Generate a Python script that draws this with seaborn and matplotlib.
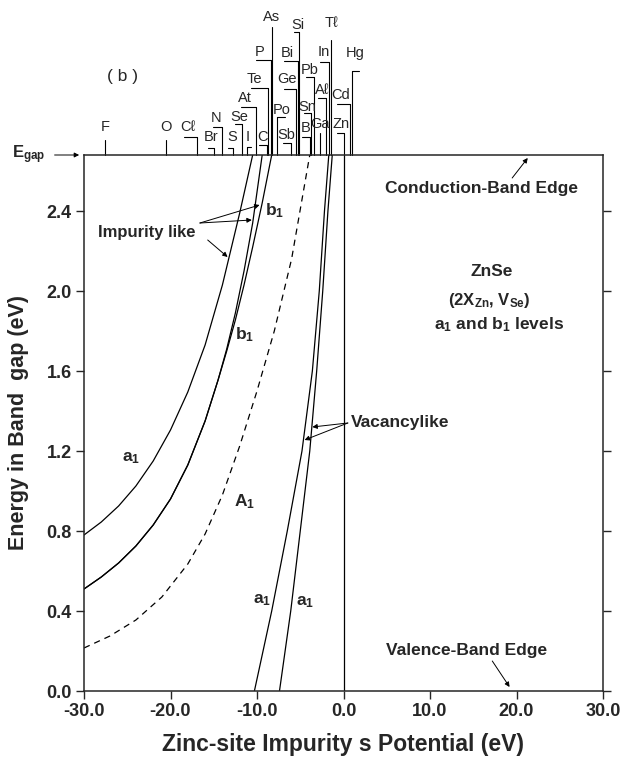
import numpy as np
import pandas as pd
import matplotlib
matplotlib.use('Agg')
import matplotlib.pyplot as plt
import matplotlib.transforms as mtransforms
import seaborn as sns

# curves: impurity potential (eV) vs level energy (eV)
imp_a1_x = [-30, -28, -26, -24, -22, -20, -18, -16, -14, -12, -10.5]
imp_a1_y = [0.78, 0.845, 0.925, 1.025, 1.15, 1.305, 1.495, 1.73, 2.03, 2.39, 2.68]

b1_low_x = [-30, -28, -26, -24, -22, -20, -18, -16, -14.5]
b1_low_y = [0.51, 0.57, 0.64, 0.725, 0.83, 0.96, 1.13, 1.35, 1.555]
b1a_top_x = [-13.5, -12.5, -11.5, -10.5, -9.4]
b1a_top_y = [1.71, 1.89, 2.10, 2.34, 2.68]
b1b_top_x = [-13.5, -12.5, -11.5, -10.5, -9.4, -8.3]
b1b_top_y = [1.70, 1.855, 2.03, 2.22, 2.44, 2.68]

A1_x = [-30, -27, -24, -21, -18, -16, -14, -12, -10, -8, -6, -3.9]
A1_y = [0.215, 0.275, 0.355, 0.47, 0.635, 0.785, 0.98, 1.225, 1.50, 1.80, 2.16, 2.68]

vac1_x = [-10.3, -8.3, -6.5, -4.8, -3.6, -2.8, -2.2, -1.7]
vac1_y = [0.0, 0.4, 0.8, 1.2, 1.6, 2.0, 2.4, 2.68]
vac2_x = [-7.4, -6.1, -5.0, -3.9, -3.1, -2.4, -1.8, -1.3]
vac2_y = [0.0, 0.4, 0.8, 1.2, 1.6, 2.0, 2.4, 2.68]

e_gap = 2.68

# impurity s-orbital potentials marked above the frame
elements = ['F', 'O', 'Cℓ', 'Br', 'N', 'S', 'Se', 'I', 'At', 'Te', 'C', 'P', 'As',
            'Po', 'Sb', 'Ge', 'Bi', 'Si', 'B', 'Sn', 'Pb', 'Ga', 'Aℓ', 'In', 'Tℓ',
            'Zn', 'Cd', 'Hg']
potentials = [-27.6, -20.5, -16.9, -15.0, -14.0, -12.8, -11.7, -11.2, -10.1, -8.7,
              -8.8, -8.4, -8.3, -7.7, -6.1, -5.5, -5.3, -5.1, -3.9, -3.8, -3.4,
              -2.7, -2.0, -1.7, -1.4, 0.0, 0.8, 1.0]
# label layout (label x in eV, label / bar height in pixels from top of figure)
label_x = [-27.6, -20.5, -18.0, -15.3, -14.7, -12.9, -12.1, -11.1, -11.4, -10.3,
           -9.4, -9.7, -8.3, -7.2, -6.6, -6.5, -6.5, -5.3, -4.4, -4.2, -3.9,
           -2.7, -2.5, -2.3, -1.4, -0.3, -0.3, 1.4]
label_py = [127, 127, 127, 137, 118, 137, 117, 137, 98, 79, 137, 52, 17, 110, 135,
            79, 53, 25, 128, 107, 70, 124, 90, 52, 23, 124, 95, 53]
bar_py = [140, 140, 137, 148, 127, 148, 124, 147, 107, 88, 145, 60, 27, 117, 143,
          89, 61, 32, 137, 113, 77, 133, 98, 62, 40, 133, 104, 71]

sns.set_style('ticks')
plt.rcParams['font.family'] = ['Liberation Sans', 'DejaVu Sans']
plt.rcParams['mathtext.fontset'] = 'custom'
plt.rcParams['mathtext.bf'] = 'Liberation Sans:bold'
plt.rcParams['mathtext.rm'] = 'Liberation Sans'
plt.rcParams['mathtext.it'] = 'Liberation Sans:italic'

W, H = 628, 762
fig = plt.figure(figsize=(W / 100, H / 100), dpi=100)
ax = fig.add_axes([84 / W, 71 / H, 519 / W, 536 / H])
ax_h_px = 536


def py2ax(p):
    return (691 - p) / ax_h_px


curves = [(imp_a1_x, imp_a1_y, '-'),
          (b1_low_x + b1a_top_x, b1_low_y + b1a_top_y, '-'),
          (b1_low_x + b1b_top_x, b1_low_y + b1b_top_y, '-'),
          (A1_x, A1_y, (0, (5, 4))),
          (vac1_x, vac1_y, '-'),
          (vac2_x, vac2_y, '-')]
for cx, cy, ls in curves:
    df = pd.DataFrame({'V': cx, 'E': cy})
    sns.lineplot(data=df, x='V', y='E', ax=ax, color='k', lw=0.9,
                 linestyle=ls, estimator=None, sort=False)

ax.axvline(0, color='k', lw=0.9)
ax.set_xlim(-30, 30)
ax.set_ylim(0, e_gap)
ax.set_xticks(np.arange(-30, 31, 10))
ax.set_xticklabels([f'{v:.1f}' for v in np.arange(-30, 31, 10)])
ax.set_yticks(np.arange(0, 2.41, 0.4))
ax.set_yticklabels([f'{v:.1f}' for v in np.arange(0, 2.41, 0.4)])
ax.tick_params(axis='both', direction='out', length=6, width=1.0,
               labelsize=13, pad=3)
ax.tick_params(axis='y', right=True)
for lab in ax.get_xticklabels() + ax.get_yticklabels():
    lab.set_fontweight('bold')
for s in ax.spines.values():
    s.set_linewidth(1.1)

ax.set_xlabel('Zinc-site Impurity s Potential (eV)', fontsize=16.5,
              fontweight='bold', labelpad=9)
ax.set_ylabel('Energy in Band  gap (eV)', fontsize=15.5, fontweight='bold',
              labelpad=12)

# element marks above the frame
trans = mtransforms.blended_transform_factory(ax.transData, ax.transAxes)
for name, v, lx, ly, by in zip(elements, potentials, label_x, label_py, bar_py):
    ax.text(lx, py2ax(ly), name, transform=trans, ha='center', va='center',
            fontsize=10.5, clip_on=False)
    if abs(lx - v) > 0.05:
        ax.plot([lx - 0.4 * np.sign(v - lx), v], [py2ax(by), py2ax(by)],
                transform=trans, color='k', lw=0.8, clip_on=False)
    ax.plot([v, v], [py2ax(by), 1.0], transform=trans, color='k', lw=0.8,
            clip_on=False)

ax.text(0.075, 1.146, '( b )', transform=ax.transAxes, fontsize=12.5,
        ha='center', va='center')
ax.text(-0.138, 1.0, r'$\mathbf{E_{gap}}$', transform=ax.transAxes,
        fontsize=12, ha='left', va='center')
ax.annotate('', xy=(-0.004, 1.0), xytext=(-0.062, 1.0),
            xycoords='axes fraction', annotation_clip=False,
            arrowprops=dict(arrowstyle='-|>', lw=0.7, color='k',
                            mutation_scale=7))

bold = dict(fontsize=12.5, fontweight='bold', ha='center', va='center')
arrow = dict(arrowstyle='-|>', lw=0.7, color='k', mutation_scale=7,
             shrinkA=0, shrinkB=0)

ax.text(15.9, 2.515, 'Conduction-Band Edge', **bold)
ax.annotate('', xy=(21.3, 2.665), xytext=(19.5, 2.565), arrowprops=arrow)
ax.text(14.2, 0.20, 'Valence-Band Edge', **bold)
ax.annotate('', xy=(19.2, 0.02), xytext=(17.2, 0.15), arrowprops=arrow)

ax.text(17.1, 2.095, 'ZnSe', **bold)
ax.text(16.9, 1.955, r'(2X$_{\mathbf{Zn}}$, V$_{\mathbf{Se}}$)', fontsize=12,
        fontweight='bold', ha='center', va='center')
ax.text(18.0, 1.83, r'a$_{\mathbf{1}}$ and b$_{\mathbf{1}}$ levels', **bold)

ax.text(-22.7, 2.295, 'Impurity like', fontsize=12, fontweight='bold',
        ha='center', va='center')
for tip, tail in [((-9.7, 2.43), (-16.6, 2.34)),
                  ((-10.6, 2.355), (-16.6, 2.34)),
                  ((-13.4, 2.17), (-15.7, 2.255))]:
    ax.annotate('', xy=tip, xytext=tail, arrowprops=arrow)

ax.text(0.8, 1.34, 'Vacancylike', fontsize=12.5, fontweight='bold',
        ha='left', va='center')
for tip in [(-3.6, 1.32), (-4.5, 1.255)]:
    ax.annotate('', xy=tip, xytext=(0.5, 1.34), arrowprops=arrow)

curve_labels = [(-24.5, 1.165, 'a'), (-11.4, 1.78, 'b'), (-8.0, 2.40, 'b'),
                (-11.4, 0.945, 'A'), (-9.4, 0.455, 'a'), (-4.4, 0.445, 'a')]
for lx, ly, t in curve_labels:
    ax.text(lx, ly, t + r'$_{\mathbf{1}}$', fontsize=12.5, fontweight='bold',
            ha='center', va='center')

fig.savefig('out.png', dpi=100)
